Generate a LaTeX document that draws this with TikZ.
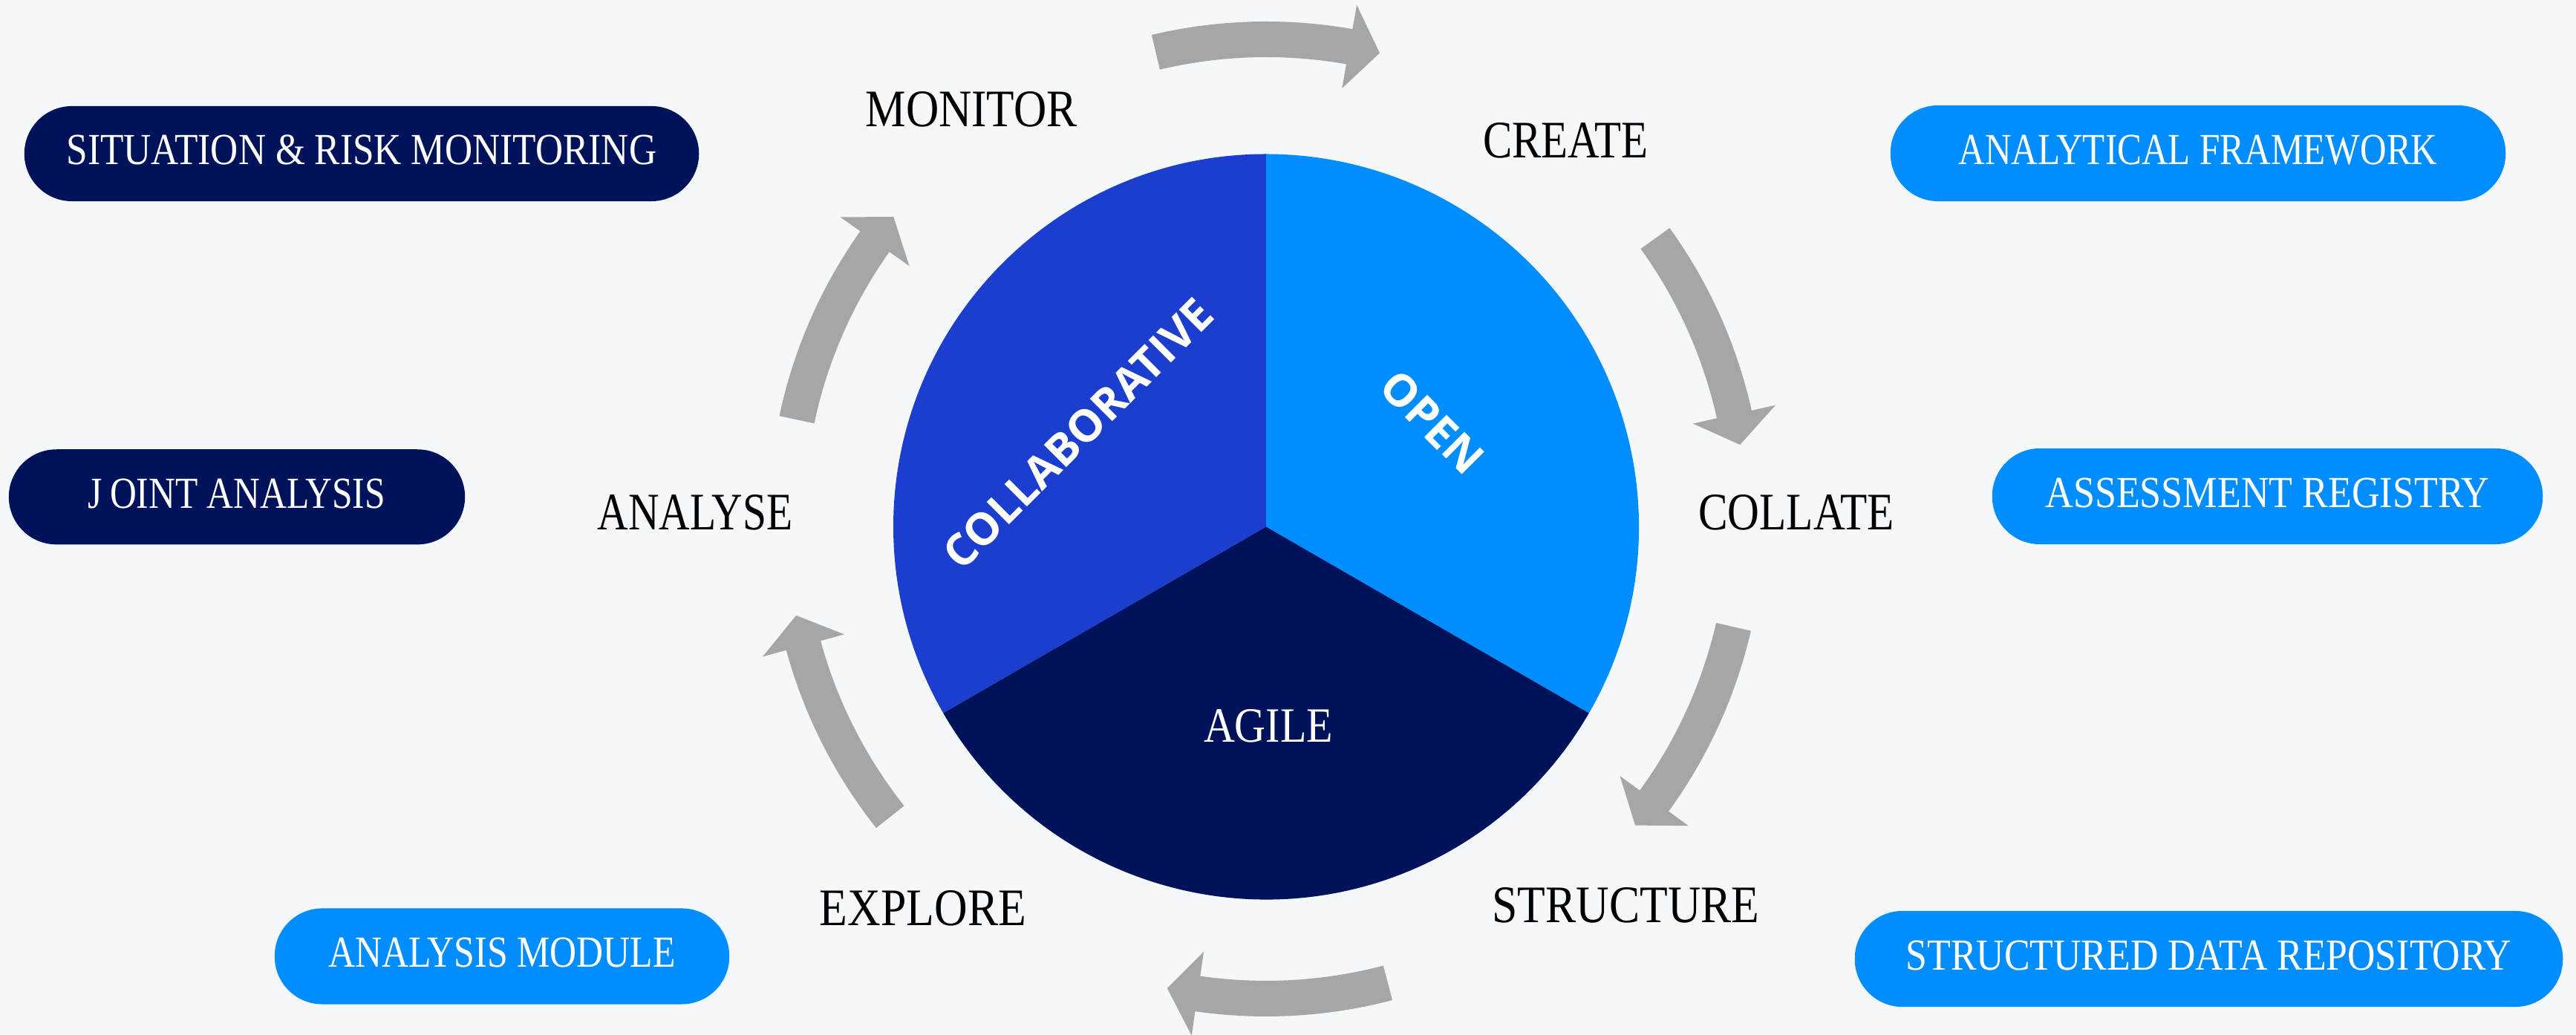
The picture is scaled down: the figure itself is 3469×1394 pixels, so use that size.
\documentclass[tikz,border=0pt]{standalone}
\usepackage{fontspec}
\usepackage{graphicx}
\setmainfont{Liberation Serif}
\newfontfamily\osans{Open Sans}
\definecolor{bgc}{HTML}{F4F8FB}
\definecolor{navy}{HTML}{00135A}
\definecolor{collab}{HTML}{1B3ECE}
\definecolor{openblue}{HTML}{008DFF}
\definecolor{arrowgray}{HTML}{A6A6A6}
% tail angle, tip angle (clockwise arrows around the ring)
\newcommand{\cycarrow}[2]{%
  \fill[arrowgray] (#1:622) arc[start angle=#1, end angle=#2+3.7, radius=622]
    -- (#2+3.7:589) -- (#2:646) -- (#2+3.7:703) -- (#2+3.7:670)
    arc[start angle=#2+3.7, end angle=#1, radius=670] -- cycle;}
\tikzset{
  lbl/.style={inner sep=0pt, text=black, font=\fontsize{20.2pt}{24pt}\selectfont},
  pill/.style={rounded corners=0.64cm, inner sep=0pt, text=white, text depth=0.1cm,
    font=\fontsize{17pt}{20pt}\selectfont},
  navypill/.style={pill, fill=navy},
  bluepill/.style={pill, fill=openblue},
  sectorlbl/.style={inner sep=0pt, text=white, font=\osans\bfseries\fontsize{17pt}{20pt}\selectfont},
}
\begin{document}
\begin{tikzpicture}[x=0.01cm, y=0.01cm]
  \fill[bgc] (0,0) rectangle (3469,1394);
  \useasboundingbox (0,0) rectangle (3469,1394);

  % pie
  \begin{scope}[shift={(1705,684.5)}]
    \coordinate (pc) at (0,0);
    \fill[collab] (pc) -- (90:502) arc[start angle=90, end angle=210, radius=502] -- cycle;
    \fill[openblue] (pc) -- (-30:502) arc[start angle=-30, end angle=90, radius=502] -- cycle;
    \fill[navy] (pc) -- (210:502) arc[start angle=210, end angle=330, radius=502] -- cycle;
  \end{scope}

  % cycle arrows
  \begin{scope}[shift={(1705,695)}]
    \cycarrow{103.3}{76.3}
    \cycarrow{35.8}{8.9}
    \cycarrow{-13.0}{-39.7}
    \cycarrow{-75.3}{-101.9}
    \cycarrow{218.4}{191.6}
    \cycarrow{168.05}{140.96}
  \end{scope}

  % sector labels
  \node[sectorlbl, rotate=45] (collabt) at (1452,810) {COLLABORATIVE};
  \node[sectorlbl, rotate=-45] (opent) at (1929,825) {OPEN};
  \node[inner sep=0pt, text=white, font=\fontsize{18.9pt}{22pt}\selectfont] (agile) at (1708,416) {\scalebox{0.873}[1]{AGILE}};

  % stage labels
  \node[lbl] (monitor) at (1308,1246.5) {\scalebox{0.863}[1]{MONITOR}};
  \node[lbl] (create) at (2108.5,1205) {\scalebox{0.829}[1]{CREATE}};
  \node[lbl] (collate) at (2419,704) {\scalebox{0.835}[1]{COLLATE}};
  \node[lbl] (structure) at (2189.5,175) {\scalebox{0.868}[1]{STRUCTURE}};
  \node[lbl] (explore) at (1243,170.5) {\scalebox{0.870}[1]{EXPLORE}};
  \node[lbl] (analyse) at (936,704) {\scalebox{0.809}[1]{ANALYSE}};

  % left pills
  \node[navypill, minimum width=9.08cm, minimum height=1.28cm] (sit) at (487,1187)
    {\scalebox{0.860}[1]{SITUATION \& RISK MONITORING}};
  \node[navypill, minimum width=6.14cm, minimum height=1.28cm] (joint) at (319,724.7)
    {\scalebox{0.829}[1]{J\kern0.2em OINT ANALYSIS}};
  \node[bluepill, minimum width=6.12cm, minimum height=1.29cm] (module) at (676,106)
    {\scalebox{0.834}[1]{ANALYSIS MODULE}};

  % right pills
  \node[bluepill, minimum width=8.28cm, minimum height=1.29cm] (frame) at (2960,1187.5)
    {\scalebox{0.824}[1]{ANALYTICAL FRAMEWORK}};
  \node[bluepill, minimum width=7.41cm, minimum height=1.29cm] (registry) at (3053.5,725.5)
    {\scalebox{0.872}[1]{ASSESSMENT REGISTRY}};
  \node[bluepill, minimum width=9.53cm, minimum height=1.29cm] (repo) at (2974.5,102.5)
    {\scalebox{0.867}[1]{STRUCTURED DATA REPOSITORY}};
\end{tikzpicture}
\end{document}
